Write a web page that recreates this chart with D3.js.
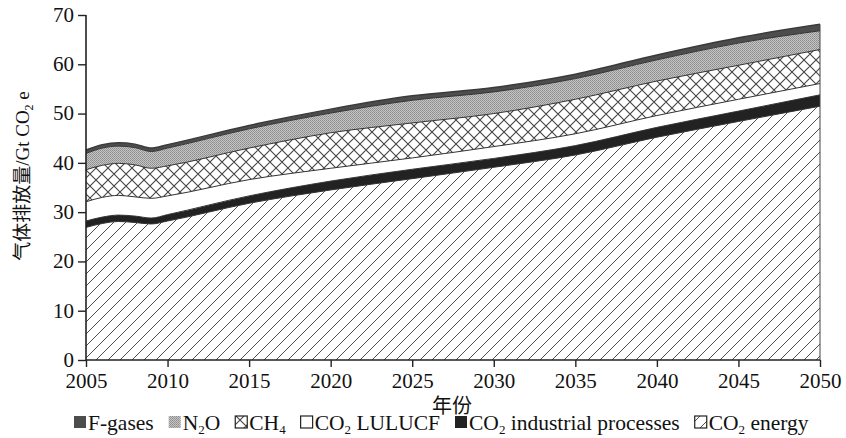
<!DOCTYPE html>
<html>
<head>
<meta charset="utf-8">
<script src="https://cdn.jsdelivr.net/npm/d3@7"></script>
<style>
  body { margin: 0; background: #fff; }
  svg text { font-family: "Liberation Serif", "Noto Sans CJK SC", serif; fill: #111; }
</style>
</head>
<body>
<div id="chart"></div>
<script>
// years and layer values (Gt CO2e)
const years      = [2005, 2006, 2007, 2008, 2009, 2010, 2015, 2020, 2025, 2030, 2035, 2040, 2045, 2050];
const co2Energy  = [26.9, 27.7, 28.1, 27.9, 27.6, 28.2, 31.8, 34.5, 36.8, 39.1, 41.6, 45.2, 48.4, 51.5];
const co2Ind     = [1.3, 1.3, 1.3, 1.3, 1.2, 1.3, 1.5, 1.8, 1.9, 1.8, 1.9, 2.0, 2.1, 2.3];
const co2Lulucf  = [3.9, 4.0, 4.0, 3.9, 4.0, 3.8, 3.3, 2.6, 2.3, 2.4, 2.4, 2.4, 2.4, 2.3];
const ch4        = [6.5, 6.5, 6.5, 6.5, 6.1, 6.1, 6.4, 7.2, 7.1, 6.7, 7.0, 7.0, 6.9, 6.9];
const n2o        = [3.3, 3.5, 3.5, 3.5, 3.4, 3.6, 3.9, 4.0, 4.6, 4.4, 4.2, 4.3, 4.5, 3.8];
const fGases     = [0.7, 0.7, 0.7, 0.7, 0.7, 0.7, 0.7, 0.8, 0.9, 0.9, 0.9, 1.0, 1.1, 1.3];

const xTicks = [2005, 2010, 2015, 2020, 2025, 2030, 2035, 2040, 2045, 2050];
const yTicks = [0, 10, 20, 30, 40, 50, 60, 70];

const keys = ["energy", "ind", "lulucf", "ch4", "n2o", "f"];
const table = years.map((y, i) => ({
  year: y, energy: co2Energy[i], ind: co2Ind[i], lulucf: co2Lulucf[i],
  ch4: ch4[i], n2o: n2o[i], f: fGases[i]
}));

const width = 846, height = 438;
const svg = d3.select("#chart").append("svg")
  .attr("width", width).attr("height", height);

const x = d3.scaleLinear().domain([2005, 2050]).range([86, 820]);
const y = d3.scaleLinear().domain([0, 70]).range([360, 15]);

// patterns
const defs = svg.append("defs");
defs.append("pattern").attr("id", "hatch")
  .attr("patternUnits", "userSpaceOnUse").attr("width", 12).attr("height", 12)
  .append("path").attr("d", "M-3,3 L3,-3 M0,12 L12,0 M9,15 L15,9")
  .attr("stroke", "#3a3a3a").attr("stroke-width", 0.9);

const cross = defs.append("pattern").attr("id", "cross")
  .attr("patternUnits", "userSpaceOnUse").attr("width", 12).attr("height", 12);
cross.append("rect").attr("width", 12).attr("height", 12).attr("fill", "#fff");
cross.append("path").attr("d", "M0,0 L12,12 M12,0 L0,12 M-6,6 L6,-6 M6,18 L18,6 M-6,6 L6,18 M6,-6 L18,6")
  .attr("stroke", "#444").attr("stroke-width", 1.1);

const dots = defs.append("pattern").attr("id", "dots")
  .attr("patternUnits", "userSpaceOnUse").attr("width", 2).attr("height", 2);
dots.append("rect").attr("width", 2).attr("height", 2).attr("fill", "#c4c4c4");
dots.append("rect").attr("width", 1).attr("height", 1).attr("fill", "#8c8c8c");
dots.append("rect").attr("x", 1).attr("y", 1).attr("width", 1).attr("height", 1).attr("fill", "#9a9a9a");

const fills = {
  energy: "url(#hatch)", ind: "#222", lulucf: "#fff",
  ch4: "url(#cross)", n2o: "url(#dots)", f: "#4d4d4d"
};

const series = d3.stack().keys(keys)(table);

const area = d3.area()
  .x(d => x(d.data.year)).y0(d => y(d[0])).y1(d => y(d[1]))
  .curve(d3.curveMonotoneX);
const topLine = d3.line()
  .x(d => x(d.data.year)).y(d => y(d[1]))
  .curve(d3.curveMonotoneX);

svg.append("g").selectAll("path")
  .data(series).join("path")
  .attr("d", area)
  .attr("fill", d => fills[d.key]);

// thin boundary on top of each layer
svg.append("g").selectAll("path")
  .data(series).join("path")
  .attr("d", topLine)
  .attr("fill", "none")
  .attr("stroke", d => d.key === "f" ? "#3a3a3a" : "#333")
  .attr("stroke-width", d => d.key === "f" ? 1.5 : 1);

// right edge of the stack
const last = series[series.length - 1][years.length - 1];
svg.append("line")
  .attr("x1", x(2050)).attr("x2", x(2050))
  .attr("y1", y(0)).attr("y2", y(last[1]))
  .attr("stroke", "#444").attr("stroke-width", 1);

// axes
const xAxis = svg.append("g")
  .attr("transform", `translate(0,${y(0)})`)
  .call(d3.axisBottom(x).tickValues(xTicks).tickFormat(d3.format("d")).tickSize(7).tickPadding(6));
const yAxis = svg.append("g")
  .attr("transform", `translate(${x(2005)},0)`)
  .call(d3.axisLeft(y).tickValues(yTicks).tickSize(8).tickPadding(4));

[xAxis, yAxis].forEach(g => {
  g.select(".domain").attr("stroke", "#222").attr("stroke-width", 1.6);
  g.selectAll(".tick line").attr("stroke", "#222").attr("stroke-width", 1.4);
  g.selectAll(".tick text")
    .style("font-family", "Liberation Serif, serif")
    .style("font-size", "21px").attr("fill", "#111");
});
xAxis.select(".domain").attr("d", `M${x(2005)},0H${x(2050)}`);
yAxis.select(".domain").attr("d", `M0,${y(0)}V${y(70)}`);
yAxis.selectAll(".tick text").attr("dy", "0.30em");

// axis titles
svg.append("text")
  .attr("x", 452).attr("y", 413)
  .attr("text-anchor", "middle")
  .style("font-size", "20px")
  .text("年份");

const yTitle = svg.append("text")
  .attr("transform", "translate(29,176) rotate(-90)")
  .attr("text-anchor", "middle")
  .style("font-size", "19px");
yTitle.append("tspan").text("气体排放量/Gt CO");
yTitle.append("tspan").attr("dy", 4).style("font-size", "12px").text("2");
yTitle.append("tspan").attr("dy", -4).text(" e");

// legend
const legendItems = [
  { key: "f", parts: [["F-gases", false]] },
  { key: "n2o", parts: [["N", false], ["2", true], ["O", false]] },
  { key: "ch4", parts: [["CH", false], ["4", true]] },
  { key: "lulucf", parts: [["CO", false], ["2", true], [" LULUCF", false]] },
  { key: "ind", parts: [["CO", false], ["2", true], [" industrial processes", false]] },
  { key: "energy", parts: [["CO", false], ["2", true], [" energy", false]] }
];

const legend = svg.append("g");
let lx = 74;
const ly = 430;
legendItems.forEach(item => {
  const sw = 12;
  const swatch = legend.append("rect")
    .attr("x", lx).attr("y", ly - 14).attr("width", sw).attr("height", sw)
    .attr("fill", fills[item.key]);
  if (item.key === "lulucf" || item.key === "ch4" || item.key === "energy")
    swatch.attr("stroke", "#222").attr("stroke-width", 1.2);
  const t = legend.append("text")
    .attr("x", lx + sw + 2).attr("y", ly)
    .style("font-size", "21.5px");
  item.parts.forEach(([s, sub], i) => {
    const ts = t.append("tspan").text(s);
    if (sub) ts.attr("dy", 4).style("font-size", "13px");
    else if (i > 0 && item.parts[i - 1][1]) ts.attr("dy", -4);
  });
  lx += sw + 2 + t.node().getComputedTextLength() + 15;
});
</script>
</body>
</html>
